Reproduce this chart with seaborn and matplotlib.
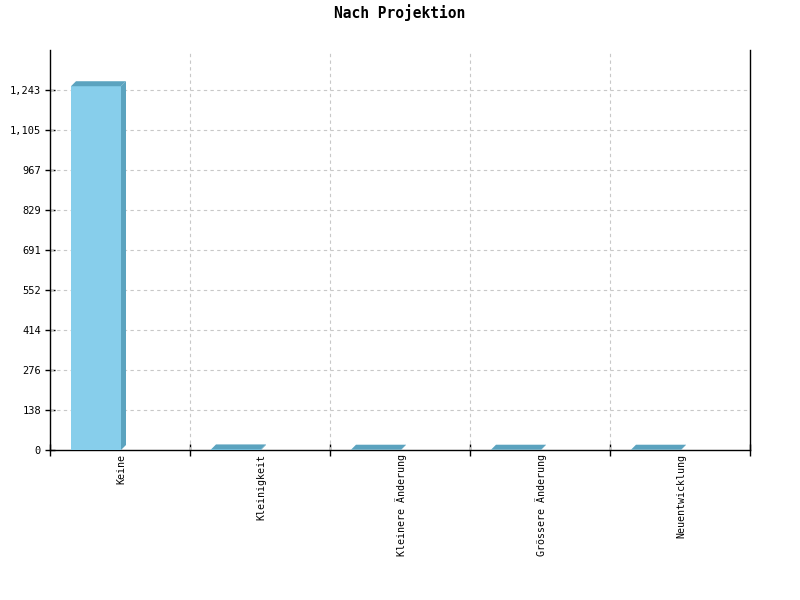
import matplotlib
matplotlib.use("Agg")
import matplotlib.pyplot as plt
from matplotlib.patches import Polygon
import seaborn as sns
import pandas as pd
import numpy as np

categories = ["Keine", "Kleinigkeit", "Kleinere Änderung", "Grössere Änderung", "Neuentwicklung"]
counts = [1256, 2, 1, 1, 1]
tick_step = 138.11
n_ticks = 10

front = "#87ceeb"
dark = "#5ba3bf"
mono = ["DejaVu Sans Mono"]

sns.set_theme(style="white")
plt.rcParams["font.family"] = mono
plt.rcParams["text.color"] = "black"
plt.rcParams["xtick.color"] = "black"
plt.rcParams["ytick.color"] = "black"

df = pd.DataFrame({"cat": categories, "n": counts})

fig = plt.figure(figsize=(8, 6), dpi=100)
ax = fig.add_axes([50 / 800, 150 / 600, 700 / 800, 400 / 600])

sns.barplot(data=df, x="cat", y="n", order=categories, color=front,
            saturation=1, width=50 / 140, ax=ax, zorder=3)

off = 46 / 140
ax.set_xlim(-off, len(categories) - off)
ymax = tick_step * n_ticks
ax.set_ylim(0, ymax)

# 3d depth faces
dx = 5 * (len(categories) / 700)
dy = 5 * (ymax / 400)
for p in ax.patches[:]:
    p.set_edgecolor("none")
    x, w, h = p.get_x(), p.get_width(), p.get_height()
    side = [(x + w, 0), (x + w, h), (x + w + dx, h + dy), (x + w + dx, dy)]
    top = [(x, h), (x + w, h), (x + w + dx, h + dy), (x + dx, h + dy)]
    ax.add_patch(Polygon(side, closed=True, facecolor=dark, edgecolor="none", zorder=3))
    ax.add_patch(Polygon(top, closed=True, facecolor=dark, edgecolor="none", zorder=3))

# y axis
yt = np.arange(n_ticks) * tick_step
ax.set_yticks(yt)
ax.set_yticklabels([f"{round(v):,}" for v in yt], fontsize=7.5)
ax.tick_params(axis="y", direction="inout", length=7, width=1, colors="black", pad=3, left=True)

# x axis: boundary ticks + label minor ticks
bounds = np.arange(len(categories) + 1) - off
ax.set_xticks(bounds)
ax.set_xticklabels([])
ax.tick_params(axis="x", which="major", direction="inout", length=8, width=1, colors="black", bottom=True)
lab_pos = np.arange(len(categories)) + (121 - 50) / 140 - off
ax.set_xticks(lab_pos, minor=True)
ax.set_xticklabels(categories, minor=True, rotation=90, fontsize=7.2, va="top", ha="center")
ax.tick_params(axis="x", which="minor", length=0, pad=3, colors="black")

ax.set_xlabel("")
ax.set_ylabel("")

for v in yt[1:]:
    ax.axhline(v, color="#c8c8c8", lw=0.8, ls=(0, (3, 3)), zorder=1)
for b in bounds[1:-1]:
    ax.axvline(b, color="#c8c8c8", lw=0.8, ls=(0, (3, 3)), zorder=1)

for s in ["left", "right", "bottom"]:
    ax.spines[s].set_visible(True)
    ax.spines[s].set_color("black")
    ax.spines[s].set_linewidth(1)
ax.spines["top"].set_visible(False)

fig.text(0.5, 1 - 13 / 600, "Nach Projektion", ha="center", va="center",
         fontsize=10.5, fontweight="bold", family=mono, color="black")

fig.savefig("out.png", dpi=100, facecolor="white")
